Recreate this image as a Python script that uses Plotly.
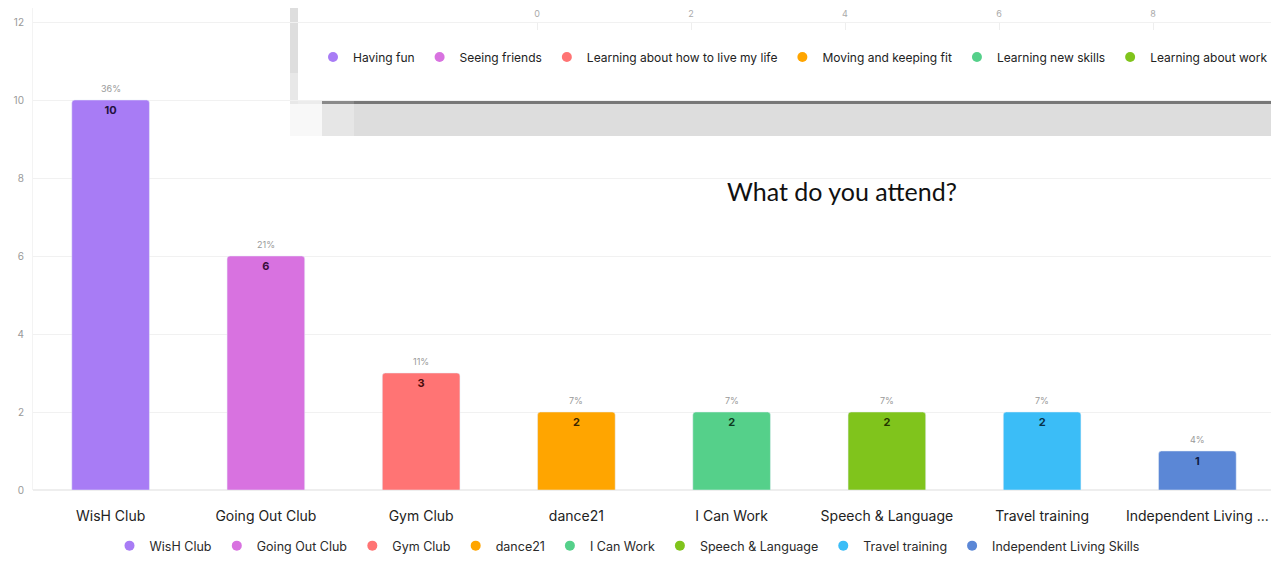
import plotly.graph_objects as go

# main question: "What do you attend?"
categories = ["WisH Club", "Going Out Club", "Gym Club", "dance21", "I Can Work",
              "Speech & Language", "Travel training", "Independent Living Skills"]
tick_labels = ["WisH Club", "Going Out Club", "Gym Club", "dance21", "I Can Work",
               "Speech & Language", "Travel training", "Independent Living ..."]
counts = [10, 6, 3, 2, 2, 2, 2, 1]
percents = ["36%", "21%", "11%", "7%", "7%", "7%", "7%", "4%"]
y_ticks = [0, 2, 4, 6, 8, 10, 12]

bar_colors = ["#a87cf5", "#d872e0", "#ff7474", "#ffa500", "#55d08a",
              "#80c41c", "#3bbdf7", "#5b87d6"]
label_colors = ["#24123f", "#3a0f3d", "#4a0c0c", "#3a2600", "#0e3a22",
                "#243600", "#08324a", "#0e1d45"]

# the previous question's chart, peeking in from the top
other_items = ["Having fun", "Seeing friends", "Learning about how to live my life",
               "Moving and keeping fit", "Learning new skills", "Learning about work"]
other_colors = ["#a87cf5", "#d872e0", "#ff7474", "#ffa500", "#55d08a", "#80c41c"]
other_ticks = [0, 2, 4, 6, 8]

# the page body has an 8px margin, so the figure starts at (8, 8) in the window
OFF = 8
W, H = 1279 - OFF, 569 - OFF
ML, MR, MT, MB = 33 - OFF, 4, 0, 79
PW = W - ML - MR
PH = H - MT - MB


def px(x):
    # window x -> paper x
    return (x - OFF - ML) / PW


def py(y):
    # window y -> paper y
    return 1 - (y - OFF - MT) / PH


FONT = "Inter, Noto Sans, sans-serif"

fig = go.Figure()

fig.add_trace(go.Bar(
    x=categories, y=counts,
    marker=dict(color=bar_colors, cornerradius=3),
    text=[str(c) for c in counts],
    textposition="inside", insidetextanchor="end", textangle=0,
    insidetextfont=dict(family=FONT, size=11, color=label_colors, weight="bold"),
    showlegend=False, hoverinfo="skip",
))

# legend entries (circles) for the main chart
for name, col in zip(categories, bar_colors):
    fig.add_trace(go.Scatter(
        x=[None], y=[None], mode="markers", name=name,
        marker=dict(color=col, size=10, symbol="circle"),
        legend="legend",
    ))

# legend entries of the overlapping panel
for name, col in zip(other_items, other_colors):
    fig.add_trace(go.Scatter(
        x=[None], y=[None], mode="markers", name=name,
        marker=dict(color=col, size=10, symbol="circle"),
        xaxis="x2", yaxis="y2", legend="legend2",
    ))

# percentage labels above bars
for cat, val, pct in zip(categories, counts, percents):
    fig.add_annotation(x=cat, y=val, text=pct, showarrow=False, yshift=12,
                       font=dict(family=FONT, size=9, color="#999999"))

# overlapping panel from the page above (screenshot artefact)
panel = [
    (290, 0, 298, 73, "#dedede"),
    (290, 73, 298, 104, "#e8e8e8"),
    (298, 0, 1279, 100, "#ffffff"),
    (298, 100, 322, 104, "#ececec"),
    (322, 100, 354, 104, "#8a8a8a"),
    (354, 100, 1279, 104, "#777777"),
    (290, 104, 322, 136, "#f8f8f8"),
    (322, 104, 354, 136, "#e6e6e6"),
    (354, 104, 1279, 136, "#dddddd"),
]
for x0, y0, x1, y1, col in panel:
    fig.add_shape(type="rect", xref="paper", yref="paper",
                  x0=px(x0), x1=px(x1), y0=py(y0), y1=py(y1),
                  fillcolor=col, line_width=0, layer="between")

fig.add_annotation(xref="paper", yref="paper", x=px(842), y=py(191),
                   text="What do you attend?", showarrow=False,
                   font=dict(family="Lato, Carlito, sans-serif", size=25, color="#111111"))

fig.update_layout(
    width=W, height=H,
    margin=dict(l=ML, r=MR, t=MT, b=MB, autoexpand=False),
    paper_bgcolor="white", plot_bgcolor="white",
    bargap=0.5,
    font=dict(family=FONT, color="#333333"),
    xaxis=dict(
        tickvals=categories, ticktext=tick_labels,
        tickfont=dict(family=FONT, size=14, color="#222222"),
        showgrid=False, showline=False, ticks="", ticklabelstandoff=16,
        domain=[0, 1],
    ),
    yaxis=dict(
        range=[0, (490 - OFF) / 39], tickvals=y_ticks,
        tickfont=dict(family=FONT, size=10, color="#999999"),
        gridcolor="#f1f1f1", zeroline=True, zerolinecolor="#eeeeee",
        showline=True, linecolor="#f3f3f3", ticklabelstandoff=6,
    ),
    xaxis2=dict(
        anchor="y2", domain=[px(298), 1],
        range=[(298 - 537) / 77, (1275 - 537) / 77],
        tickvals=other_ticks, ticklabelposition="inside",
        tickfont=dict(family=FONT, size=9, color="#aaaaaa"),
        ticks="outside", ticklen=7, tickcolor="#eeeeee",
        showgrid=False, showline=False, zeroline=False,
    ),
    yaxis2=dict(anchor="x2", domain=[py(22), 1], range=[0, 1], visible=False),
    legend=dict(
        orientation="h", xref="container", yref="container",
        x=(627 - OFF) / W, y=1 - (546 - OFF) / H, xanchor="center", yanchor="middle",
        font=dict(family=FONT, size=12.5, color="#2a2a2a"),
        itemwidth=30, bgcolor="rgba(0,0,0,0)",
    ),
    legend2=dict(
        orientation="h", xref="container", yref="container",
        x=(313 - OFF) / W, y=1 - (57 - OFF) / H, xanchor="left", yanchor="middle",
        font=dict(family=FONT, size=12, color="#222222"),
        itemwidth=30, bgcolor="rgba(0,0,0,0)",
    ),
)

fig.write_html("out.html")
